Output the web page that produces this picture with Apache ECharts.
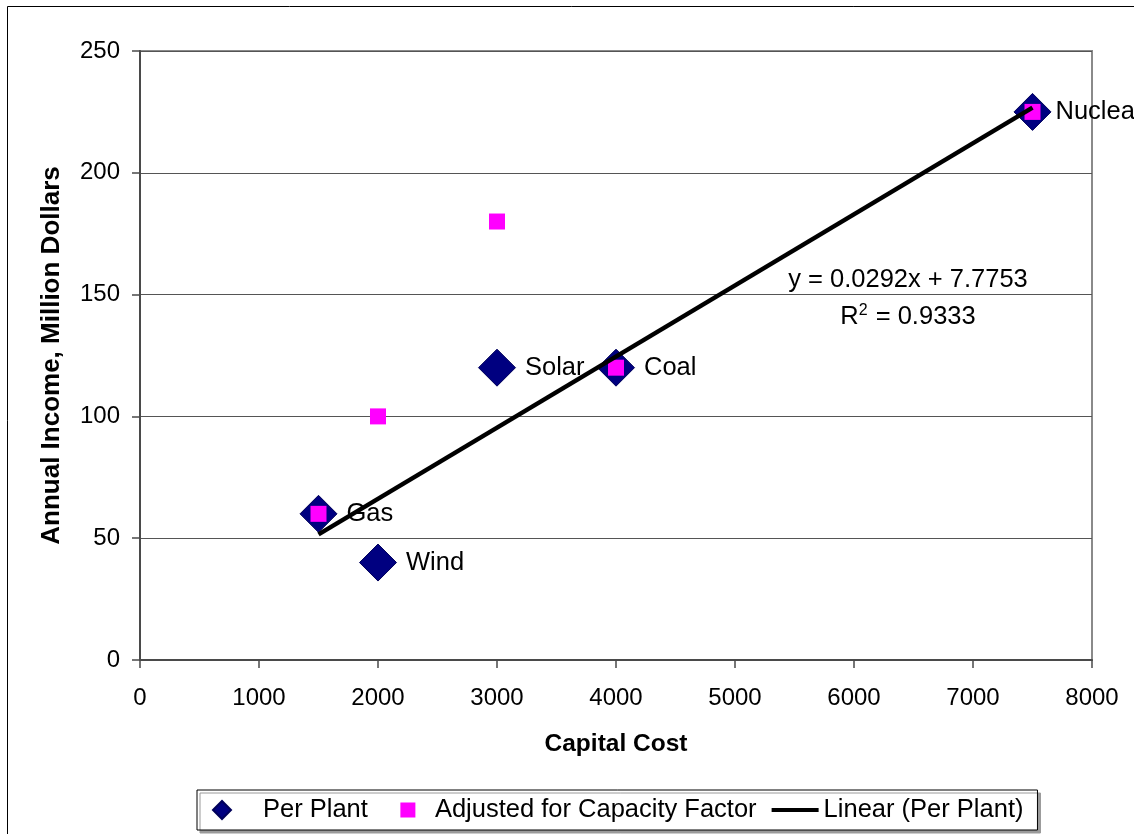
<!DOCTYPE html>
<html>
<head>
<meta charset="utf-8">
<script src="https://cdn.jsdelivr.net/npm/echarts@6/dist/echarts.min.js"></script>
<style>
  html, body { margin: 0; padding: 0; background: #ffffff; }
  #chart { width: 1134px; height: 834px; }
</style>
</head>
<body>
<div id="chart"></div>
<script>
// Plant types and their capital cost / annual income figures
const plantNames = ['Gas', 'Wind', 'Solar', 'Coal', 'Nuclear'];
const capitalCost = [1500, 2000, 3000, 4000, 7500];
const incomePerPlant = [60, 40, 120, 120, 225];
const incomeAdjusted = [60, 100, 180, 120, 225];

// Least-squares fit of the per-plant series, as reported
const fitSlope = 0.0292;
const fitIntercept = 7.7753;
const fitR2 = 0.9333;

const xTicks = { min: 0, max: 8000, interval: 1000 };
const yTicks = { min: 0, max: 250, interval: 50 };

const FONT = '"Liberation Sans", Arial, sans-serif';

// Legend icons share a 56x18 box; the empty move-to points fix the box so
// each glyph keeps its own size and horizontal place inside it.
const BOX = 'M0,0ZM56,18Z';
const ICON_DIAMOND = 'path://' + BOX + 'M11,9L20,0L29,9L20,18Z';
const ICON_SQUARE = 'path://' + BOX + 'M26.5,1.5H41.5V16.5H26.5Z';
const ICON_LINE = 'path://' + BOX + 'M9,7H56V11H9Z';

const perPlantData = capitalCost.map((x, i) => ({
  value: [x, incomePerPlant[i]],
  name: plantNames[i],
  label: plantNames[i] === 'Nuclear' ? { distance: 4 } : undefined
}));
const adjustedData = capitalCost.map((x, i) => [x, incomeAdjusted[i]]);

const xFitStart = Math.min(...capitalCost);
const xFitEnd = Math.max(...capitalCost);
const fitData = [
  [xFitStart, fitSlope * xFitStart + fitIntercept],
  [xFitEnd, fitSlope * xFitEnd + fitIntercept]
];

const chart = echarts.init(document.getElementById('chart'), null, { renderer: 'canvas' });

chart.setOption({
  animation: false,
  backgroundColor: '#ffffff',
  textStyle: { fontFamily: FONT, color: '#000' },
  grid: {
    left: 140, top: 51, right: 42, bottom: 174,
    show: true, borderColor: '#8a8a8a', borderWidth: 2, backgroundColor: 'transparent'
  },
  xAxis: {
    type: 'value',
    min: xTicks.min, max: xTicks.max, interval: xTicks.interval,
    name: 'Capital Cost',
    nameLocation: 'middle',
    nameGap: 72,
    nameTextStyle: { fontFamily: FONT, fontSize: 24.5, fontWeight: 'bold', color: '#000' },
    axisLine: { show: true, onZero: false, lineStyle: { color: '#4a4a4a', width: 2 } },
    axisTick: { show: true, inside: false, length: 8, lineStyle: { color: '#4a4a4a', width: 1.5 } },
    axisLabel: { fontFamily: FONT, fontSize: 24, color: '#000', margin: 26, formatter: v => String(v) },
    splitLine: { show: false }
  },
  yAxis: {
    type: 'value',
    min: yTicks.min, max: yTicks.max, interval: yTicks.interval,
    name: 'Annual Income, Million Dollars',
    nameLocation: 'middle',
    nameGap: 75,
    nameTextStyle: { fontFamily: FONT, fontSize: 26, fontWeight: 'bold', color: '#000' },
    axisLine: { show: true, onZero: false, lineStyle: { color: '#4a4a4a', width: 2 } },
    axisTick: { show: true, inside: false, length: 8, lineStyle: { color: '#4a4a4a', width: 1.5 } },
    axisLabel: { fontFamily: FONT, fontSize: 24, color: '#000', margin: 20, formatter: v => String(v) },
    splitLine: { show: true, lineStyle: { color: '#555', width: 1 } }
  },
  legend: {
    left: 197,
    top: 790,
    orient: 'horizontal',
    padding: [7, 14, 7, 4],
    itemGap: 6,
    itemWidth: 56,
    itemHeight: 18,
    symbolKeepAspect: true,
    backgroundColor: '#ffffff',
    borderColor: '#000',
    borderWidth: 1,
    borderRadius: 0,
    shadowColor: '#9a9a9a',
    shadowBlur: 0,
    shadowOffsetX: 3,
    shadowOffsetY: 3,
    textStyle: { fontFamily: FONT, fontSize: 25.5, color: '#000' },
    data: [
      { name: 'Per Plant', icon: ICON_DIAMOND },
      { name: 'Adjusted for Capacity Factor', icon: ICON_SQUARE },
      { name: 'Linear (Per Plant)', icon: ICON_LINE }
    ]
  },
  graphic: [
    {
      type: 'rect',
      shape: { x: 7.5, y: 6.5, width: 1400, height: 1000 },
      style: { fill: 'none', stroke: '#000', lineWidth: 1 },
      silent: true, z: -1
    },
    {
      type: 'text',
      x: 908, y: 280,
      style: {
        text: 'y = ' + fitSlope.toFixed(4) + 'x + ' + fitIntercept.toFixed(4),
        font: '25.5px ' + FONT,
        fill: '#000',
        align: 'center',
        verticalAlign: 'middle'
      },
      z: 10
    },
    {
      type: 'text',
      x: 908, y: 317,
      style: {
        text: 'R{sup|2} = ' + fitR2.toFixed(4),
        font: '25.5px ' + FONT,
        fill: '#000',
        align: 'center',
        verticalAlign: 'middle',
        rich: {
          sup: { fontFamily: FONT, fontSize: 16, fill: '#000', padding: [0, 1, 13, 0] }
        }
      },
      z: 10
    }
  ],
  series: [
    {
      name: 'Per Plant',
      type: 'scatter',
      symbol: 'diamond',
      symbolSize: 37,
      z: 2,
      itemStyle: { color: '#000080', borderColor: '#00005a', borderWidth: 1, opacity: 1 },
      label: {
        show: true,
        position: 'right',
        distance: 9,
        formatter: p => p.name,
        fontFamily: FONT,
        fontSize: 25.5,
        color: '#000'
      },
      data: perPlantData
    },
    {
      name: 'Adjusted for Capacity Factor',
      type: 'scatter',
      symbol: 'rect',
      symbolSize: 16,
      z: 3,
      itemStyle: { color: '#ff00ff', opacity: 1 },
      data: adjustedData
    },
    {
      name: 'Linear (Per Plant)',
      type: 'line',
      z: 4,
      symbol: 'none',
      showSymbol: false,
      lineStyle: { color: '#000', width: 4.5 },
      itemStyle: { color: '#000' },
      data: fitData
    }
  ]
});
</script>
</body>
</html>
